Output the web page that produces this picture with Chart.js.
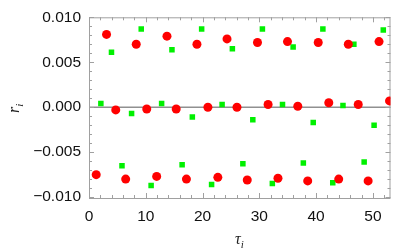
<!DOCTYPE html>
<html>
<head>
<meta charset="utf-8">
<script src="https://cdn.jsdelivr.net/npm/chart.js@4/dist/chart.umd.min.js"></script>
<style>
  html, body { margin: 0; padding: 0; background: #fff; }
  #wrap { width: 395px; height: 250px; }
</style>
</head>
<body>
<div id="wrap"><canvas id="chart" width="395" height="250"></canvas></div>
<script>
// Red circles (tau_i, r_i)
const redTau = [1.27, 3.09, 4.71, 6.46, 8.32, 10.17, 11.92, 13.73, 15.36, 17.16,
                19.01, 20.94, 22.69, 24.31, 26.06, 27.87, 29.67, 31.54, 33.28, 34.96,
                36.77, 38.52, 40.37, 42.23, 43.98, 45.67, 47.42, 49.16, 51.08, 52.93];
const redR = [-0.0075, 0.0081, -0.0003, -0.0080, 0.0070, -0.0002, -0.0077, 0.0079, -0.0002, -0.0080,
              0.0070, 0.0000, -0.0078, 0.0076, -0.0000, -0.0081, 0.0072, 0.0003, -0.0079, 0.0073,
              0.0001, -0.0082, 0.0072, 0.0005, -0.0080, 0.0070, 0.0003, -0.0082, 0.0073, 0.0007];

// Green squares (tau_i, r_i)
const greenTau = [2.09, 3.96, 5.81, 7.50, 9.20, 10.94, 12.79, 14.61, 16.40, 18.20,
                  19.84, 21.59, 23.44, 25.25, 27.10, 28.85, 30.54, 32.29, 34.08, 35.95,
                  37.75, 39.49, 41.19, 42.93, 44.73, 46.65, 48.46, 50.21, 51.83];
const greenR = [0.0004, 0.0061, -0.0065, -0.0007, 0.0087, -0.0087, 0.0004, 0.0064, -0.0064, -0.0011,
                0.0087, -0.0086, 0.0003, 0.0065, -0.0063, -0.0014, 0.0087, -0.0085, 0.0003, 0.0067,
                -0.0062, -0.0017, 0.0087, -0.0084, 0.0002, 0.0070, -0.0061, -0.0020, 0.0086];

// Axis ticks
const xTicks = [0, 10, 20, 30, 40, 50];
const yTicks = [-0.010, -0.005, 0.000, 0.005, 0.010];

const toPoints = (xs, ys) => xs.map((x, i) => ({ x: x, y: ys[i] }));

const frameColor = '#a0a0a0';

// Frame, inward ticks, zero line and axis titles
const framePlugin = {
  id: 'frame',
  beforeDatasetsDraw(chart) {
    const { ctx, chartArea: a, scales: { x, y } } = chart;
    ctx.save();
    // zero line
    ctx.strokeStyle = '#909090';
    ctx.lineWidth = 1.6;
    ctx.beginPath();
    ctx.moveTo(a.left, y.getPixelForValue(0));
    ctx.lineTo(a.right, y.getPixelForValue(0));
    ctx.stroke();

    ctx.strokeStyle = frameColor;
    ctx.lineWidth = 1;
    ctx.strokeRect(a.left + 0.5, a.top + 0.5, a.right - a.left - 1, a.bottom - a.top);

    // x ticks every 2, major every 10
    for (let v = 0; v <= 53; v += 2) {
      const px = Math.round(x.getPixelForValue(v)) + 0.5;
      const len = (v % 10 === 0) ? 5 : 3;
      ctx.beginPath();
      ctx.moveTo(px, a.bottom); ctx.lineTo(px, a.bottom - len);
      ctx.moveTo(px, a.top); ctx.lineTo(px, a.top + len);
      ctx.stroke();
    }
    // y ticks every 0.001, major every 0.005
    for (let k = -10; k <= 10; k++) {
      const py = Math.round(y.getPixelForValue(k / 1000)) + 0.5;
      const len = (k % 5 === 0) ? 5 : 3;
      ctx.beginPath();
      ctx.moveTo(a.left, py); ctx.lineTo(a.left + len, py);
      ctx.moveTo(a.right, py); ctx.lineTo(a.right - len, py);
      ctx.stroke();
    }
    ctx.restore();
  },
  afterDraw(chart) {
    const { ctx, chartArea: a } = chart;
    ctx.save();
    ctx.fillStyle = '#222';
    // x title: tau_i
    const cx = (a.left + a.right) / 2;
    ctx.font = 'italic 16px "Liberation Serif", "DejaVu Serif", serif';
    ctx.textBaseline = 'alphabetic';
    ctx.textAlign = 'right';
    ctx.fillText('τ', cx + 1, 244);
    ctx.font = 'italic 11px "Liberation Serif", "DejaVu Serif", serif';
    ctx.textAlign = 'left';
    ctx.fillText('i', cx + 1, 248);
    // y title: r_i (rotated)
    const cy = (a.top + a.bottom) / 2;
    ctx.translate(19, cy);
    ctx.rotate(-Math.PI / 2);
    ctx.font = 'italic 16px "Liberation Serif", "DejaVu Serif", serif';
    ctx.textAlign = 'right';
    ctx.fillText('r', 1, 0);
    ctx.font = 'italic 11px "Liberation Serif", "DejaVu Serif", serif';
    ctx.textAlign = 'left';
    ctx.fillText('i', 1, 4);
    ctx.restore();
  }
};

new Chart(document.getElementById('chart'), {
  type: 'scatter',
  data: {
    datasets: [
      {
        label: 'red',
        data: toPoints(redTau, redR),
        pointStyle: 'circle',
        pointRadius: 4.5,
        backgroundColor: '#ff0000',
        borderColor: '#ff0000',
        borderWidth: 0
      },
      {
        label: 'green',
        data: toPoints(greenTau, greenR),
        pointStyle: 'rect',
        pointRadius: 3.9,
        backgroundColor: '#00f000',
        borderColor: '#00f000',
        borderWidth: 0
      }
    ]
  },
  options: {
    responsive: false,
    animation: false,
    layout: { padding: { top: 10, right: 2, bottom: 0, left: 0 } },
    plugins: { legend: { display: false }, tooltip: { enabled: false } },
    scales: {
      x: {
        type: 'linear',
        min: 0,
        max: 53.1,
        afterBuildTicks: (s) => { s.ticks = xTicks.map(v => ({ value: v })); },
        afterFit: (s) => { s.height = 52; },
        grid: { display: false, drawTicks: false },
        border: { display: false },
        ticks: {
          padding: 9,
          color: '#111',
          font: { family: '"Liberation Sans", Arial, sans-serif', size: 15.5 },
          callback: (v) => String(v)
        }
      },
      y: {
        type: 'linear',
        min: -0.0101,
        max: 0.0100,
        afterBuildTicks: (s) => { s.ticks = yTicks.map(v => ({ value: v })); },
        afterFit: (s) => { s.width = 89; },
        grid: { display: false, drawTicks: false },
        border: { display: false },
        ticks: {
          padding: 8,
          color: '#111',
          font: { family: '"Liberation Sans", Arial, sans-serif', size: 15.5 },
          callback: (v) => (v < 0 ? '\u2212' : '') + Math.abs(v).toFixed(3)
        }
      }
    }
  },
  plugins: [framePlugin]
});
</script>
</body>
</html>
